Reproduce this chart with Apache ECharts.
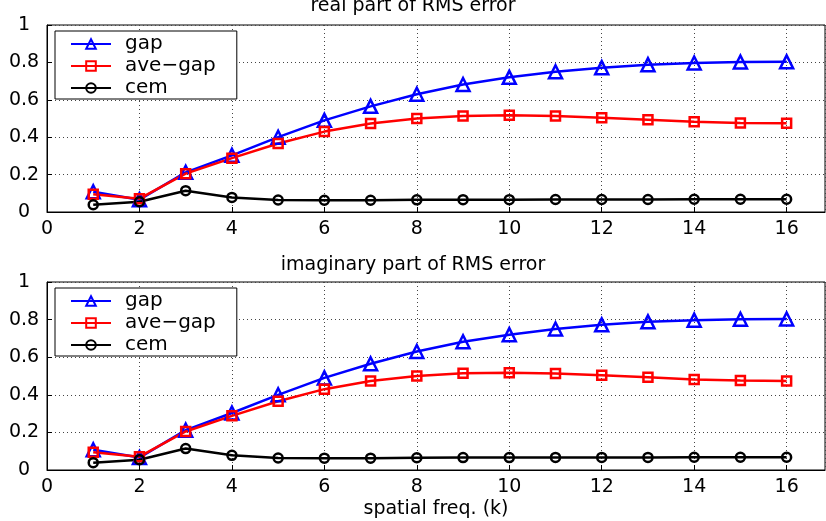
<!DOCTYPE html>
<html>
<head>
<meta charset="utf-8">
<script src="https://cdn.jsdelivr.net/npm/echarts@6/dist/echarts.min.js"></script>
<style>
html,body{margin:0;padding:0;background:#fff;}
#main{width:826px;height:521px;}
</style>
</head>
<body>
<div id="main"></div>
<script>
// spatial frequency k
var freq = [1,2,3,4,5,6,7,8,9,10,11,12,13,14,15,16];

// real part of RMS error
var realGap    = [0.108,0.066,0.212,0.303,0.400,0.490,0.565,0.630,0.682,0.720,0.750,0.772,0.788,0.797,0.802,0.803];
var realAveGap = [0.095,0.071,0.205,0.288,0.366,0.430,0.473,0.500,0.514,0.517,0.513,0.504,0.493,0.482,0.476,0.474];
var realCem    = [0.039,0.055,0.114,0.078,0.064,0.063,0.063,0.065,0.066,0.066,0.067,0.067,0.067,0.068,0.068,0.068];

// imaginary part of RMS error
var imagGap    = [0.108,0.066,0.212,0.303,0.400,0.490,0.565,0.630,0.682,0.720,0.750,0.772,0.788,0.797,0.802,0.803];
var imagAveGap = [0.095,0.071,0.205,0.288,0.366,0.430,0.473,0.500,0.514,0.517,0.513,0.504,0.493,0.482,0.476,0.474];
var imagCem    = [0.039,0.055,0.114,0.078,0.064,0.063,0.063,0.065,0.066,0.066,0.067,0.067,0.067,0.068,0.068,0.068];

var titles = ['real part of RMS error', 'imaginary part of RMS error'];
var names = ['gap', 'ave\u2212gap', 'cem'];
var xTicks = [0,2,4,6,8,10,12,14,16];

var FONT = 'DejaVu Sans';

function pairs(xs, ys){ var ls = []; for(var i=0; i<xs.length; i++){ ls.push([xs[i], ys[i]]); } return ls; }

function xAxisOf(idx, withName){
	var ax = {
		type:'value', gridIndex:idx, min:0, max:16.83, interval:2,
		axisLine:{show:true, onZero:false, lineStyle:{color:'#000', width:1}},
		axisTick:{show:true, inside:true, length:5, lineStyle:{color:'#000'}},
		axisLabel:{color:'#000', fontFamily:FONT, fontSize:19, margin:8, showMaxLabel:false,
			formatter:function(v){ return xTicks.indexOf(v) >= 0 ? String(v) : ''; }},
		splitLine:{show:true, lineStyle:{color:'#444', type:[1,3], width:1}}
	};
	if(withName){
		ax.name = 'spatial freq. (k)';
		ax.nameLocation = 'middle';
		ax.nameGap = 30;
		ax.nameTextStyle = {color:'#000', fontFamily:FONT, fontSize:19};
	}
	return ax;
}
function yAxisOf(idx){
	return {
		type:'value', gridIndex:idx, min:0, max:1, interval:0.2,
		axisLine:{show:true, lineStyle:{color:'#000', width:1}},
		axisTick:{show:true, inside:true, length:5, lineStyle:{color:'#000'}},
		axisLabel:{color:'#000', fontFamily:FONT, fontSize:19, margin:23, align:'center'},
		splitLine:{show:true, lineStyle:{color:'#444', type:[1,3], width:1}}
	};
}
function lineOf(idx, name, data, color, symbol, size){
	return {
		name:name, type:'line', xAxisIndex:idx, yAxisIndex:idx,
		data:pairs(freq, data), symbol:symbol, symbolSize:size,
		lineStyle:{color:color, width:2.5},
		itemStyle:{color:'rgba(255,255,255,0)', borderColor:color, borderWidth:2.5},
		emphasis:{disabled:true}, animation:false, z:3
	};
}
function legendOf(idx, top){
	return {
		show:true, orient:'vertical', left:55, top:top,
		data:names, itemWidth:40, itemHeight:12, itemGap:2,
		padding:[3,21,1,15],
		backgroundColor:'#fff', borderColor:'#000', borderWidth:1,
		textStyle:{color:'#000', fontFamily:FONT, fontSize:20, lineHeight:19, padding:[0,0,0,9]},
		selectedMode:false
	};
}

var chart = echarts.init(document.getElementById('main'), null, {renderer:'canvas'});
var option = {
	backgroundColor:'#fff',
	animation:false,
	title:[
		{text:titles[0], left:'center', top:-8, textStyle:{color:'#000', fontFamily:FONT, fontSize:19, fontWeight:'normal'}},
		{text:titles[1], left:'center', top:251, textStyle:{color:'#000', fontFamily:FONT, fontSize:19, fontWeight:'normal'}}
	],
	grid:[
		{left:47, top:25, width:778, height:187, show:true, borderColor:'#000', borderWidth:1, backgroundColor:'transparent'},
		{left:47, top:282, width:778, height:188, show:true, borderColor:'#000', borderWidth:1, backgroundColor:'transparent'}
	],
	legend:[legendOf(0, 31), legendOf(1, 288)],
	xAxis:[xAxisOf(0, false), xAxisOf(1, true)],
	yAxis:[yAxisOf(0), yAxisOf(1)],
	series:[
		lineOf(0, names[0], realGap, '#0000ff', 'triangle', 13),
		lineOf(0, names[1], realAveGap, '#ff0000', 'rect', 9),
		lineOf(0, names[2], realCem, '#000000', 'circle', 9),
		lineOf(1, names[0], imagGap, '#0000ff', 'triangle', 13),
		lineOf(1, names[1], imagAveGap, '#ff0000', 'rect', 9),
		lineOf(1, names[2], imagCem, '#000000', 'circle', 9)
	]
};
chart.setOption(option);
</script>
</body>
</html>
